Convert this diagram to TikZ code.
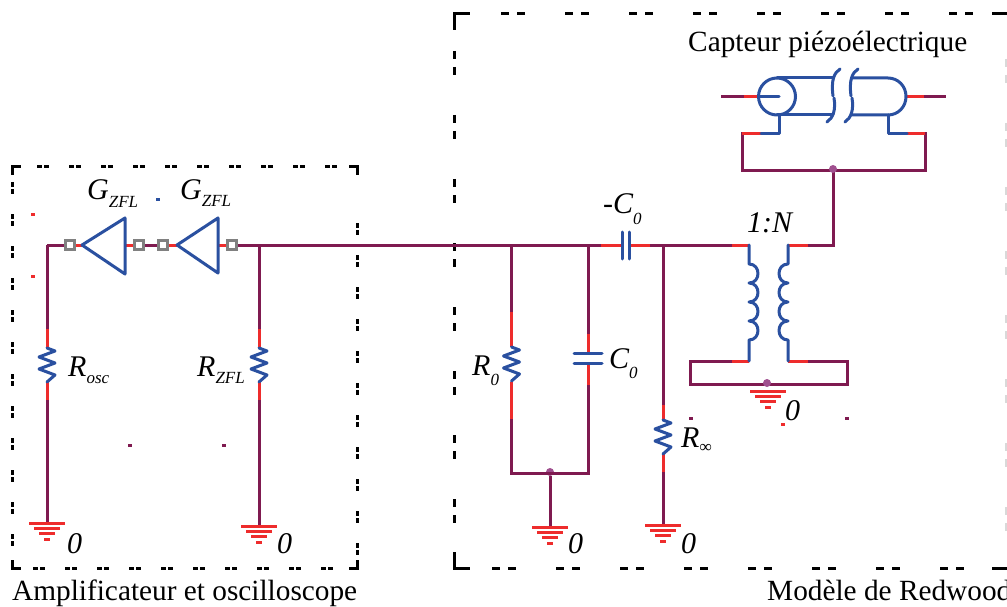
\documentclass[tikz,border=0pt]{standalone}
\usepackage{fontspec}
\setmainfont{Liberation Serif}
\definecolor{wirepurple}{HTML}{7F1A50}
\definecolor{stubred}{HTML}{EE2C2C}
\definecolor{partblue}{HTML}{2A50A0}
\definecolor{dotpurple}{HTML}{A0508F}
\newcommand{\subs}[3]{\textit{#1\raisebox{-#3pt}{\fontsize{17}{17}\selectfont #2}}}
\begin{document}
\begin{tikzpicture}[x=1pt,y=-1pt]

    \tikzset{wire/.style={draw=wirepurple,line width=3pt},
        stub/.style={draw=stubred,line width=3pt},
        part/.style={draw=partblue,line width=3pt,line join=round,line cap=round},
        boxa/.style={draw=black,line width=3pt,dash pattern=on 4.5pt off 2.5pt on 4.5pt off 20.5pt},
        boxb/.style={draw=black,line width=3pt,dash pattern=on 8pt off 8pt on 8pt off 40pt},
        boxc/.style={draw=black!15,line width=2pt,dash pattern=on 8pt off 8pt on 8pt off 40pt},
        corner/.style={draw=black,line width=3pt},
        port/.style={draw=black!50,fill=white,line width=2.5pt,minimum size=9pt,inner sep=0pt},
        joint/.style={fill=dotpurple,circle,minimum size=8pt,inner sep=0pt},
        speck/.style={minimum width=4pt,minimum height=3pt,inner sep=0pt},
        lbl/.style={anchor=base west,inner sep=0pt,font=\fontsize{30}{30}\selectfont\itshape},
        txt/.style={anchor=base west,inner sep=0pt,font=\fontsize{29.3}{32}\selectfont},
        resistorzig/.pic={\draw[part] (0,0) -- ++(8,3) -- ++(-16,6) -- ++(16,6) -- ++(-16,6) -- ++(16,6) -- ++(-8,7);},
        earth/.pic={\draw[stub] (-18,0) -- (18,0);
            \draw[stub] (-13,5) -- (13,5);
            \draw[stub] (-8,10.5) -- (8,10.5);
            \draw[stub] (-3,16) -- (3,16);}}

    \clip (0,0) rectangle (1007,607);

    % left box
    \draw[boxa] (37,167) -- (349,167);
    \draw[boxa] (33,568) -- (349,568);
    \draw[boxa] (12.5,182) -- (12.5,560);
    \draw[boxa] (357,223) -- (357,560);
    \draw[corner] (12.5,175) -- (12.5,167) -- (21,167);
    \draw[corner] (349,167) -- (357,167) -- (357,175);
    \draw[corner] (12.5,560) -- (12.5,568) -- (21,568);
    \draw[corner] (349,568) -- (357,568) -- (357,560);

    % right box
    \draw[boxb] (501,14) -- (992,14);
    \draw[boxb] (492,568) -- (992,568);
    \draw[boxb] (454,51) -- (454,552);
    \draw[boxc] (1006,59) -- (1006,552);
    \draw[corner] (454,30) -- (454,14) -- (470,14);
    \draw[corner] (454,552) -- (454,568) -- (470,568);
    \draw[corner] (992,14) -- (1007,14);
    \draw[corner] (992,568) -- (1007,568);

    % junctions
    \coordinate (ca) at (47,245);
    \coordinate (cb) at (259,245);
    \coordinate (cc) at (511.5,245);
    \coordinate (cd) at (588,245);
    \coordinate (ce) at (663,245);
    \coordinate (cf) at (749,245);
    \coordinate (cg) at (788,245);
    \coordinate (ch) at (833,245);
    \coordinate (ci) at (833,171);

    % ends of the parts
    \coordinate (rosct) at (47,348);
    \coordinate (roscb) at (47,382);
    \coordinate (rzflt) at (259,348);
    \coordinate (rzflb) at (259,382);
    \coordinate (rzert) at (511.5,347);
    \coordinate (rzerb) at (511.5,382);
    \coordinate (rinft) at (663,420);
    \coordinate (rinfb) at (663,454);
    \coordinate (czert) at (588,353);
    \coordinate (czerb) at (588,363);
    \coordinate (cnegl) at (622,245);
    \coordinate (cnegr) at (629,245);

    % grounds
    \coordinate (ga) at (47,523);
    \coordinate (gb) at (259,526);
    \coordinate (gc) at (550,527);
    \coordinate (gd) at (663,525);
    \coordinate (ge) at (768,391);

    % lower loops
    \coordinate (la) at (511.5,473);
    \coordinate (lb) at (588,473);
    \node[joint] (ja) at (550,472) {};
    \coordinate (ma) at (749,361);
    \coordinate (mb) at (690,361);
    \coordinate (mc) at (690,384);
    \coordinate (md) at (847,384);
    \coordinate (me) at (847,361);
    \coordinate (mf) at (788,361);

    % sensor loop
    \coordinate (sa) at (779,134);
    \coordinate (sb) at (742,134);
    \coordinate (sc) at (742,171);
    \coordinate (sd) at (925,171);
    \coordinate (se) at (925,134);
    \coordinate (sf) at (888,134);
    \coordinate (sg) at (721,96.5);
    \coordinate (sh) at (946,96.5);
    \coordinate (si) at (760,96.5);
    \coordinate (sj) at (906,96.5);

    % wires
    \begin{scope}[every path/.style={wire}]
        \draw (ca) -- (rosct);
        \draw (roscb) -- (ga);
        \draw (cb) -- (rzflt);
        \draw (rzflb) -- (gb);
        \draw (cc) -- (rzert);
        \draw (rzerb) -- (la) -- (lb) -- (czerb);
        \draw (cd) -- (czert);
        \draw (ce) -- (rinft);
        \draw (rinfb) -- (gd);
        \draw (ja) -- (gc);
        \draw (ca) -- (70,245);
        \draw (139,245) -- (163,245);
        \draw (232,245) -- (cnegl);
        \draw (cnegr) -- (cf);
        \draw (cg) -- (ch) -- (ci);
        \draw (ma) -- (mb) -- (mc) -- (md) -- (me) -- (mf);
        \draw (sa) -- (sb) -- (sc) -- (sd) -- (se) -- (sf);
        \draw (sg) -- (si);
        \draw (sj) -- (sh);
    \end{scope}

    % red stubs
    \begin{scope}[every path/.style={stub}]
        \draw (rosct) -- ++(0,-19);
        \draw (roscb) -- ++(0,18);
        \draw (rzflt) -- ++(0,-19);
        \draw (rzflb) -- ++(0,18);
        \draw (rzert) -- ++(0,-35);
        \draw (rzerb) -- ++(0,37);
        \draw (czert) -- ++(0,-19);
        \draw (czerb) -- ++(0,22);
        \draw (rinft) -- ++(0,-15);
        \draw (rinfb) -- ++(0,18);
        \draw (cnegl) -- ++(-21,0);
        \draw (cnegr) -- ++(21,0);
        \draw (cf) -- ++(-17,0);
        \draw (cg) -- ++(20,0);
        \draw (ma) -- ++(-17,0);
        \draw (mf) -- ++(20,0);
        \draw (sa) ++(-18,0) -- (sb);
        \draw (sf) ++(19,0) -- (se);
        \draw (si) -- ++(-16,0);
        \draw (sj) -- ++(18,0);
        \draw (70,245) -- (82,245);
        \draw (125,245) -- (139,245);
        \draw (163,245) -- (177,245);
        \draw (218,245) -- (232,245);
    \end{scope}

    % amplifiers
    \draw[part] (82,245) -- (125,218) -- (125,274) -- cycle;
    \draw[part] (177,245) -- (218,218) -- (218,273) -- cycle;
    \node[port] (pa) at (70,245) {};
    \node[port] (pb) at (139,245) {};
    \node[port] (pc) at (163,245) {};
    \node[port] (pd) at (232,245) {};

    % resistors and capacitors
    \pic at (rosct) {resistorzig};
    \pic at (rzflt) {resistorzig};
    \pic at (rzert) {resistorzig};
    \pic at (rinft) {resistorzig};
    \draw[part] (574,353) -- (602,353);
    \draw[part] (574,363) -- (602,363);
    \draw[part] (622,232) -- (622,259);
    \draw[part] (629,232) -- (629,259);

    % transformer
    \draw[part] (cf) -- (749,264)
        .. controls +(12,0) and +(12,0) .. ++(0,19)
        .. controls +(12,0) and +(12,0) .. ++(0,19)
        .. controls +(12,0) and +(12,0) .. ++(0,19)
        .. controls +(12,0) and +(12,0) .. ++(0,19) -- (ma);
    \draw[part] (cg) -- (788,264)
        .. controls +(-12,0) and +(-12,0) .. ++(0,19)
        .. controls +(-12,0) and +(-12,0) .. ++(0,19)
        .. controls +(-12,0) and +(-12,0) .. ++(0,19)
        .. controls +(-12,0) and +(-12,0) .. ++(0,19) -- (mf);
    \node[joint] (jb) at (767,383) {};

    % sensor
    \draw[part] (777,96.5) circle (18.5);
    \draw[part] (si) -- (779,96.5);
    \draw[part] (777,78) -- (833,78);
    \draw[part] (777,115) -- (833,115);
    \draw[part] (852,78) -- (888,78) .. controls (898,78) and (906,86) .. (sj)
        .. controls (906,107) and (898,115) .. (888,115) -- (852,115);
    \draw[part] (840,69) .. controls (834,73) and (831,80) .. (833,96);
    \draw[part] (834,98) .. controls (836,110) and (833,118) .. (827,122);
    \draw[part] (858,69) .. controls (852,73) and (849,80) .. (851,96);
    \draw[part] (852,98) .. controls (854,110) and (851,118) .. (845,122);
    \draw[part] (779,115) -- (sa) -- ++(-18,0);
    \draw[part] (888,115) -- (sf) -- ++(19,0);
    \node[joint] (jc) at (833,169) {};

    \pic at (ga) {earth};
    \pic at (gb) {earth};
    \pic at (gc) {earth};
    \pic at (gd) {earth};
    \pic at (ge) {earth};

    % specks
    \node[speck,fill=stubred] (spa) at (33,214) {};
    \node[speck,fill=stubred] (spb) at (33,276) {};
    \node[speck,fill=partblue] (spc) at (157.5,199) {};
    \node[speck,fill=wirepurple] (spd) at (130,445.5) {};
    \node[speck,fill=wirepurple] (spe) at (224,445.5) {};
    \node[speck,fill=wirepurple] (spf) at (691,418) {};
    \node[speck,fill=wirepurple] (spg) at (847,418) {};
    \node[speck,fill=stubred] (sph) at (783,424) {};

    % labels
    \node[lbl] (gzfla) at (87,200) {\subs{G}{ZFL}{8}};
    \node[lbl] (gzflb) at (180,199) {\subs{G}{ZFL}{8}};
    \node[lbl] (rosc) at (68,376) {\subs{R}{osc}{7}};
    \node[lbl] (rzfl) at (197,376) {\subs{R}{ZFL}{7}};
    \node[lbl] (rzer) at (472,375) {\subs{R}{0}{10}};
    \node[lbl] (czer) at (609,368) {\subs{C}{0}{10}};
    \node[lbl] (rinf) at (681,447) {\subs{R}{∞}{5}};
    \node[lbl] (cneg) at (603,213) {\subs{-C}{0}{11}};
    \node[lbl] (ratio) at (747,233) {1:N};
    \node[lbl] (za) at (67,553) {0};
    \node[lbl] (zb) at (277,553) {0};
    \node[lbl] (zc) at (568,553) {0};
    \node[lbl] (zd) at (681,553) {0};
    \node[lbl] (ze) at (785,420) {0};
    \node[txt] (capteur) at (688,52) {Capteur piézoélectrique};
    \node[txt] (ampli) at (12,600) {Amplificateur et oscilloscope};
    \node[txt] (modele) at (767,600) {Modèle de Redwood};
\end{tikzpicture}
\end{document}
